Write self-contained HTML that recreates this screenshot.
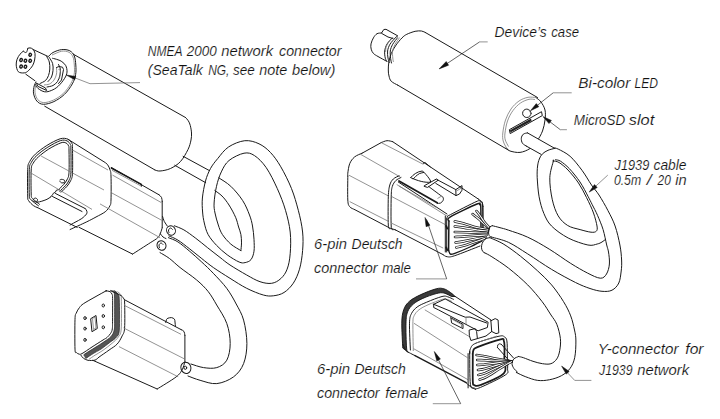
<!DOCTYPE html>
<html><head><meta charset="utf-8">
<style>
html,body{margin:0;padding:0;background:#fff;}
body{width:720px;height:419px;overflow:hidden;}
svg{display:block;}
.t{font-family:"Liberation Sans",sans-serif;font-style:italic;font-size:14px;fill:#111;stroke:#fff;stroke-width:0.15px;}
.l{fill:none;stroke:#1a1a1a;stroke-width:1;stroke-linejoin:round;stroke-linecap:round;}
.w{fill:none;stroke:#222;stroke-width:0.7;}
.g{fill:none;stroke:#777;stroke-width:0.8;}
</style></head><body>
<svg width="720" height="419" viewBox="0 0 720 419">
<g id="text">
<text class="t" x="147.80" y="55.8" textLength="34.79" lengthAdjust="spacingAndGlyphs">NMEA</text>
<text class="t" x="186.70" y="55.8" textLength="29.99" lengthAdjust="spacingAndGlyphs">2000</text>
<text class="t" x="221.30" y="55.8" textLength="51.77" lengthAdjust="spacingAndGlyphs">network</text>
<text class="t" x="279.10" y="55.8" textLength="62.42" lengthAdjust="spacingAndGlyphs">connector</text>
<text class="t" x="147.80" y="74.7" textLength="55.00" lengthAdjust="spacingAndGlyphs">(SeaTalk</text>
<text class="t" x="208.20" y="74.7" textLength="21.21" lengthAdjust="spacingAndGlyphs">NG,</text>
<text class="t" x="233.00" y="74.7" textLength="21.73" lengthAdjust="spacingAndGlyphs">see</text>
<text class="t" x="259.30" y="74.7" textLength="28.00" lengthAdjust="spacingAndGlyphs">note</text>
<text class="t" x="292.10" y="74.7" textLength="43.21" lengthAdjust="spacingAndGlyphs">below)</text>
<text class="t" x="494.60" y="37.3" textLength="52.20" lengthAdjust="spacingAndGlyphs">Device’s</text>
<text class="t" x="551.30" y="37.3" textLength="27.72" lengthAdjust="spacingAndGlyphs">case</text>
<text class="t" x="578.25" y="87.7" textLength="52.02" lengthAdjust="spacingAndGlyphs">Bi-color</text>
<text class="t" x="634.50" y="87.7" textLength="23.51" lengthAdjust="spacingAndGlyphs">LED</text>
<text class="t" x="573.75" y="125.0" textLength="51.48" lengthAdjust="spacingAndGlyphs">MicroSD</text>
<text class="t" x="628.75" y="125.0" textLength="25.46" lengthAdjust="spacingAndGlyphs">slot</text>
<text class="t" x="614.50" y="169.6" textLength="34.79" lengthAdjust="spacingAndGlyphs">J1939</text>
<text class="t" x="653.50" y="169.6" textLength="33.00" lengthAdjust="spacingAndGlyphs">cable</text>
<text class="t" x="613.90" y="185.4" textLength="27.21" lengthAdjust="spacingAndGlyphs">0.5m</text>
<text class="t" x="646.80" y="185.4" textLength="4.88" lengthAdjust="spacingAndGlyphs">/</text>
<text class="t" x="657.60" y="185.4" textLength="13.24" lengthAdjust="spacingAndGlyphs">20</text>
<text class="t" x="675.30" y="185.4" textLength="11.42" lengthAdjust="spacingAndGlyphs">in</text>
<text class="t" x="314.10" y="248.9" textLength="32.83" lengthAdjust="spacingAndGlyphs">6-pin</text>
<text class="t" x="351.60" y="248.9" textLength="51.00" lengthAdjust="spacingAndGlyphs">Deutsch</text>
<text class="t" x="314.10" y="273.2" textLength="63.41" lengthAdjust="spacingAndGlyphs">connector</text>
<text class="t" x="382.20" y="273.2" textLength="28.78" lengthAdjust="spacingAndGlyphs">male</text>
<text class="t" x="317.00" y="373.8" textLength="33.04" lengthAdjust="spacingAndGlyphs">6-pin</text>
<text class="t" x="354.50" y="373.8" textLength="51.39" lengthAdjust="spacingAndGlyphs">Deutsch</text>
<text class="t" x="317.00" y="398.1" textLength="62.62" lengthAdjust="spacingAndGlyphs">connector</text>
<text class="t" x="385.30" y="398.1" textLength="42.97" lengthAdjust="spacingAndGlyphs">female</text>
<text class="t" x="597.80" y="354.2" textLength="80.80" lengthAdjust="spacingAndGlyphs">Y-connector</text>
<text class="t" x="685.30" y="354.2" textLength="18.24" lengthAdjust="spacingAndGlyphs">for</text>
<text class="t" x="599.00" y="375.2" textLength="33.50" lengthAdjust="spacingAndGlyphs">J1939</text>
<text class="t" x="637.30" y="375.2" textLength="51.81" lengthAdjust="spacingAndGlyphs">network</text>
</g>
<g id="draw">
<path class="l" d="M73.3 54.2 L185.5 117.5"/>
<path class="l" d="M185.5 117.5 C186.0 118.0 187.5 119.5 188.3 120.8 C189.1 122.1 189.8 123.5 190.3 125.5 C190.8 127.5 191.4 130.6 191.5 133.0 C191.6 135.4 191.6 137.2 191.0 140.0 C190.4 142.8 189.8 145.9 188.0 149.5 C186.2 153.1 183.4 158.3 180.5 161.5 C177.6 164.7 173.9 166.9 170.5 168.5 C167.1 170.1 162.6 170.8 160.0 171.0 C157.4 171.2 155.8 170.2 155.0 170.0"/>
<path class="l" d="M155.0 170.0 L44.7 106.2"/>
<path class="l" d="M48.0 57.0 C48.8 56.2 50.7 53.7 53.0 52.5 C55.3 51.3 58.9 49.9 61.7 49.6 C64.5 49.3 67.7 49.7 69.8 50.8 C71.9 51.9 73.3 53.6 74.3 56.0 C75.3 58.4 75.6 61.9 75.8 65.0 C76.0 68.1 76.2 71.5 75.6 74.7 C75.0 77.9 74.2 80.6 72.3 83.9 C70.4 87.2 67.5 91.5 64.4 94.4 C61.3 97.4 57.4 99.9 53.9 101.6 C50.4 103.2 46.2 104.4 43.4 104.3 C40.5 104.2 38.4 102.9 36.8 101.0 C35.1 99.1 33.9 95.6 33.5 93.1 C33.1 90.6 33.8 87.8 34.2 85.9 C34.6 84.1 35.7 82.7 36.0 82.0"/>
<path class="g" d="M52.0 55.0 C53.6 54.4 58.9 51.7 61.7 51.2 C64.5 50.8 67.1 51.3 69.0 52.3 C70.9 53.3 72.1 54.9 73.0 57.0 C73.9 59.1 74.1 62.0 74.3 65.0 C74.5 68.0 74.7 71.6 74.1 74.7 C73.5 77.8 72.6 80.5 70.8 83.6 C69.0 86.7 66.3 90.7 63.4 93.4 C60.5 96.2 56.7 98.6 53.4 100.1 C50.1 101.6 46.4 102.7 43.8 102.6 C41.2 102.5 39.3 101.3 37.8 99.6 C36.3 97.9 35.4 94.9 35.0 92.6 C34.6 90.3 35.5 87.1 35.6 86.0"/>
<path class="l" d="M23.3 51.2 C23.8 51.5 25.5 53.0 26.2 52.5 C27.0 52.0 27.6 49.0 27.9 48.3"/>
<path class="l" d="M27.9 48.3 C28.2 48.2 29.2 47.8 30.0 47.9 C30.8 48.0 32.1 48.3 32.9 49.2 C33.7 50.1 34.7 51.5 35.0 53.3 C35.3 55.1 35.0 57.9 34.6 60.0 C34.2 62.1 33.5 64.0 32.5 65.8 C31.4 67.6 29.7 69.6 28.3 70.8 C26.9 72.0 25.9 72.8 24.2 72.9 C22.5 73.1 19.6 73.0 18.3 71.7 C17.0 70.4 16.4 67.1 16.2 65.0 C16.1 62.9 16.5 61.0 17.1 59.2 C17.7 57.4 19.0 55.5 20.0 54.2 C21.0 52.9 22.8 51.7 23.3 51.2"/>
<path class="l" d="M33.3 49.6 L47.5 56.2"/>
<path class="l" d="M25.8 74.2 L35.0 80.8"/>
<ellipse class="l" style="stroke-width:1.4" cx="30.2" cy="54.8" rx="1.5" ry="1.2" transform="rotate(-60 30.2 54.8)"/>
<ellipse class="l" style="stroke-width:1.4" cx="21.1" cy="60.0" rx="1.5" ry="1.2" transform="rotate(-60 21.1 60.0)"/>
<ellipse class="l" style="stroke-width:1.4" cx="25.4" cy="60.7" rx="1.5" ry="1.2" transform="rotate(-60 25.4 60.7)"/>
<ellipse class="l" style="stroke-width:1.4" cx="30.2" cy="60.8" rx="1.5" ry="1.2" transform="rotate(-60 30.2 60.8)"/>
<ellipse class="l" style="stroke-width:1.4" cx="21.1" cy="66.5" rx="1.5" ry="1.2" transform="rotate(-60 21.1 66.5)"/>
<ellipse class="l" style="stroke-width:1.4" cx="25.4" cy="66.7" rx="1.5" ry="1.2" transform="rotate(-60 25.4 66.7)"/>
<path class="l" d="M46.7 56.5 C47.1 57.4 48.8 59.9 49.3 62.0 C49.8 64.1 49.9 66.8 49.8 69.0 C49.7 71.2 49.2 73.6 48.5 75.5 C47.8 77.4 46.9 79.2 45.5 80.5 C44.1 81.8 40.9 83.0 40.0 83.5"/>
<path class="l" d="M49.3 57.5 C49.8 58.5 52.0 61.3 52.6 63.5 C53.2 65.7 53.2 68.2 53.0 70.5 C52.8 72.8 52.3 75.2 51.5 77.0 C50.7 78.8 48.6 80.8 48.0 81.5"/>
<path class="l" d="M52.6 58.3 C53.5 58.5 56.5 59.2 58.0 59.8 C59.5 60.3 60.5 60.6 61.8 61.6 C63.1 62.6 64.8 63.8 65.7 65.5 C66.6 67.2 67.2 69.9 67.0 72.1 C66.8 74.3 65.9 76.3 64.4 78.7 C62.9 81.1 60.1 84.5 57.9 86.5 C55.7 88.5 53.5 89.6 51.3 90.5 C49.1 91.4 46.9 92.1 44.7 91.8 C42.5 91.5 39.6 89.7 38.1 88.5 C36.6 87.3 35.9 85.2 35.5 84.6"/>
<path class="l" d="M47.0 87.0 C48.0 86.8 51.2 86.4 53.0 85.5 C54.8 84.6 56.3 83.2 57.5 81.5 C58.7 79.8 59.5 77.1 60.0 75.0 C60.5 72.9 60.5 70.8 60.3 69.0 C60.0 67.2 58.8 65.2 58.5 64.5"/>
<path class="g" d="M44.0 85.0 C44.9 84.8 47.8 84.8 49.5 84.0 C51.2 83.2 52.8 81.7 54.0 80.0 C55.2 78.3 56.1 76.0 56.5 74.0 C56.9 72.0 56.5 69.0 56.5 68.0"/>
<path class="l" d="M56.5 67.5 L59.0 66.5 L62.5 67.2 L63.5 69.5 L61.5 80.0 L58.5 83.5"/>
<path class="g" d="M58.5 69.5 L60.5 70.0 L59.5 79.0"/>
<path class="l" d="M36.8 83.3 L45.4 87.9 L46.7 90.5 L38.1 86.5Z"/>
<path class="g" d="M74.0 77.5 L90.0 83.7 L140.0 82.6"/>
<path d="M66.3 75.0 L74.7 79.7 L75.8 76.5 Z" fill="#111" stroke="#111" stroke-width="0.5"/>
<path class="l" d="M183.1 156.3 L209.4 170.6"/>
<path class="l" d="M174.8 165.3 L205.7 182.7"/>
<path class="l" d="M218.9 177.9 C220.9 179.3 226.8 182.5 230.8 186.3 C234.8 190.1 239.6 195.8 242.7 200.6 C245.8 205.4 247.9 210.8 249.5 215.0 C251.1 219.2 251.8 221.9 252.5 226.0 C253.2 230.1 253.8 235.1 254.0 239.3 C254.2 243.5 254.5 247.8 254.0 251.2 C253.5 254.6 252.5 257.7 251.0 259.6 C249.5 261.5 247.1 262.2 245.1 262.6 C243.1 263.0 242.1 263.3 239.1 262.0 C236.1 260.7 231.0 257.6 227.2 254.8 C223.4 252.0 219.7 248.7 216.5 245.3 C213.3 241.9 210.1 238.2 208.1 234.5 C206.1 230.8 205.2 226.8 204.3 223.0 C203.4 219.2 202.9 216.2 202.6 212.0 C202.3 207.8 201.9 203.2 202.4 198.0 C202.9 192.8 204.2 185.9 205.5 181.0 C206.8 176.1 208.5 172.2 210.5 168.5 C212.5 164.8 214.7 162.2 217.7 158.6 C220.7 155.0 224.0 150.0 228.5 147.0 C233.0 144.0 239.7 141.2 244.8 140.7 C249.9 140.2 254.7 141.8 259.0 143.8 C263.3 145.8 266.9 148.7 270.5 152.5 C274.1 156.3 277.3 160.8 280.8 166.8 C284.3 172.8 288.6 181.3 291.5 188.6 C294.4 195.8 296.4 203.1 298.3 210.3 C300.2 217.5 301.9 225.3 302.6 232.0 C303.3 238.7 303.1 244.4 302.6 250.6 C302.1 256.8 301.1 263.8 299.5 269.2 C297.9 274.6 295.9 279.3 293.3 283.2 C290.7 287.1 287.3 290.4 284.0 292.5 C280.7 294.6 276.8 295.4 273.3 295.8 C269.9 296.2 267.7 296.2 263.3 295.0 C258.9 293.8 252.2 291.1 246.7 288.3 C241.1 285.5 235.6 281.8 230.0 278.3 C224.4 274.8 218.0 270.8 213.3 267.5 C208.6 264.2 205.7 261.7 201.8 258.6 C197.9 255.5 193.8 252.1 189.8 249.0 C185.8 245.9 181.4 242.3 177.9 240.1 C174.4 237.9 170.4 236.6 168.9 235.9"/>
<path class="l" d="M214.8 190.5 C216.0 191.4 219.6 193.6 222.0 196.0 C224.4 198.4 226.7 201.4 229.0 205.0 C231.3 208.6 234.0 213.6 235.6 217.3 C237.2 221.0 237.7 224.1 238.6 227.0 C239.5 229.9 240.4 231.8 240.9 234.5 C241.4 237.2 241.5 240.2 241.5 242.9 C241.5 245.6 241.0 249.3 240.9 250.6"/>
<path class="l" d="M240.9 250.6 C239.2 249.5 233.9 246.8 230.8 244.1 C227.7 241.4 224.5 237.7 222.4 234.5 C220.3 231.3 219.5 228.6 218.3 225.0 C217.1 221.4 215.7 216.7 215.0 213.0 C214.3 209.3 213.8 207.4 214.1 203.0 C214.3 198.6 215.3 191.5 216.5 186.3 C217.7 181.1 219.2 176.2 221.3 171.9 C223.4 167.6 225.2 163.6 229.0 160.5 C232.8 157.4 239.8 154.0 244.0 153.2 C248.2 152.4 250.8 153.2 254.5 155.6 C258.2 158.0 262.4 162.1 266.2 167.6 C270.0 173.1 274.1 181.5 277.3 188.6 C280.5 195.7 283.4 203.1 285.5 210.3 C287.6 217.5 289.4 224.8 290.2 232.0 C291.0 239.2 290.7 247.5 290.2 253.7 C289.7 259.9 288.7 265.1 287.1 269.2 C285.6 273.3 283.5 276.1 280.9 278.5 C278.3 280.9 275.2 282.8 271.7 283.3 C268.2 283.8 264.2 283.1 260.0 281.7 C255.8 280.3 251.7 277.8 246.7 275.0 C241.7 272.2 234.4 267.9 230.0 265.0 C225.6 262.1 223.7 260.3 220.0 257.4 C216.3 254.5 211.7 251.0 207.7 247.8 C203.7 244.6 199.8 241.3 195.8 238.3 C191.8 235.3 187.5 232.0 183.9 229.9 C180.3 227.8 175.9 226.5 174.3 225.8"/>
<path class="l" d="M168.4 237.7 C170.0 238.4 174.3 239.6 177.9 241.9 C181.5 244.2 185.8 248.0 189.8 251.4 C193.8 254.8 197.9 258.5 201.8 262.1 C205.7 265.8 209.2 268.9 213.3 273.3 C217.5 277.7 222.9 283.2 226.7 288.3 C230.5 293.4 233.4 298.7 236.2 304.0 C239.0 309.3 241.8 313.5 243.6 320.1 C245.4 326.7 246.9 336.2 246.9 343.5 C246.9 350.8 245.8 358.0 243.6 363.6 C241.4 369.2 238.0 373.6 233.5 376.9 C229.0 380.2 222.4 383.0 216.8 383.6 C211.2 384.2 204.9 381.6 200.1 380.3 C195.3 379.0 190.0 376.7 188.0 376.0"/>
<path class="l" d="M160.0 252.6 C161.6 253.6 166.2 256.0 169.5 258.5 C172.8 261.0 175.5 263.9 180.0 267.5 C184.5 271.1 192.0 276.0 196.7 280.0 C201.4 284.0 205.0 287.5 208.3 291.7 C211.6 295.9 213.6 299.7 216.7 305.0 C219.8 310.3 224.6 317.1 226.8 323.5 C229.1 329.9 230.2 337.4 230.2 343.5 C230.2 349.6 229.0 356.2 226.8 360.2 C224.6 364.2 220.7 366.4 216.8 367.6 C212.9 368.8 207.8 368.2 203.5 367.6 C199.2 367.0 193.1 364.6 191.0 364.0"/>
<path class="l" d="M425.5 32.6 L537.5 97.5"/>
<path class="l" d="M425.5 32.6 C424.8 32.3 423.2 31.2 421.5 31.0 C419.8 30.8 417.6 30.8 415.1 31.3 C412.7 31.9 409.0 33.2 406.8 34.3 C404.6 35.4 403.8 36.1 402.0 37.9 C400.2 39.7 397.8 42.5 396.0 45.1 C394.2 47.7 392.5 50.6 391.3 53.4 C390.1 56.2 389.4 59.0 388.9 61.8 C388.4 64.6 388.3 67.6 388.3 70.0 C388.3 72.4 388.5 74.1 389.0 76.0 C389.5 77.9 389.8 79.8 391.2 81.2 C392.7 82.8 396.5 84.4 397.5 85.0"/>
<path class="l" d="M397.5 85.0 L508.2 150.0"/>
<path class="l" d="M536.0 97.6 C536.8 98.3 539.5 99.9 541.0 102.0 C542.5 104.1 544.3 107.0 545.0 110.0 C545.7 113.0 545.4 116.5 545.0 120.0 C544.6 123.5 543.8 127.5 542.5 131.0 C541.2 134.5 539.1 138.1 537.0 141.0 C534.9 143.9 532.8 146.6 530.0 148.5 C527.2 150.4 523.3 152.0 520.0 152.4 C516.7 152.8 512.2 151.7 510.0 151.0 C507.8 150.3 507.1 148.5 506.5 148.0"/>
<path class="g" d="M506.5 148.0 C505.9 146.8 503.8 143.5 503.2 141.0 C502.6 138.5 502.4 136.5 502.8 133.0 C503.2 129.5 504.1 124.0 505.5 120.0 C506.9 116.0 508.8 112.2 511.0 109.0 C513.2 105.8 516.2 103.0 519.0 101.0 C521.8 99.0 525.2 97.9 528.0 97.3 C530.8 96.7 534.7 97.5 536.0 97.6"/>
<path class="g" d="M508.5 146.5 C508.0 145.4 505.9 142.2 505.3 140.0 C504.7 137.8 504.6 136.2 505.0 133.0 C505.4 129.8 506.2 124.8 507.5 121.0 C508.8 117.2 510.8 113.5 513.0 110.5 C515.2 107.5 517.8 104.9 520.5 103.0 C523.2 101.1 526.6 99.9 529.0 99.3 C531.4 98.7 534.0 99.5 535.0 99.5"/>
<ellipse class="l" cx="526.8" cy="113.3" rx="4.2" ry="4.2" transform="rotate(0 526.8 113.3)"/>
<path class="l" d="M509.7 129.5 L541.5 111.7 L542.3 115.6 L510.5 133.4Z"/>
<path d="M510 130.2 L531 118.4 L531.6 121 L510.4 132.6Z" fill="#222"/>
<path class="g" d="M528.3 109.8 C528.6 110.2 529.9 111.3 530.3 112.3 C530.6 113.3 530.7 114.7 530.4 115.6 C530.1 116.5 528.9 117.3 528.6 117.6"/>
<path class="l" d="M381.5 33.0 C380.8 33.1 378.4 32.9 377.0 33.7 C375.6 34.5 374.4 36.2 373.4 37.9 C372.4 39.6 371.4 42.0 371.0 43.9 C370.6 45.8 370.8 47.6 371.2 49.2 C371.6 50.8 372.3 52.2 373.4 53.4 C374.5 54.6 375.8 55.2 378.0 56.5 C380.2 57.8 385.1 60.4 386.5 61.2"/>
<path class="l" d="M381.5 33.0 L383.8 29.5 L386.0 29.3 L397.8 35.9 L395.5 37.5"/>
<path class="l" d="M382.0 33.6 L388.0 37.0 L393.0 38.5"/>
<path class="l" d="M392.4 37.9 C391.5 38.9 388.4 41.7 387.1 43.9 C385.8 46.1 385.0 48.6 384.7 51.0 C384.4 53.4 384.9 56.5 385.3 58.2 C385.7 60.0 386.8 61.0 387.1 61.5"/>
<path class="l" d="M395.0 38.2 C394.2 39.2 391.2 42.1 390.0 44.2 C388.8 46.3 387.9 48.7 387.6 51.0 C387.3 53.3 387.7 56.1 388.0 58.0 C388.3 59.9 389.1 61.8 389.3 62.5"/>
<path class="l" d="M397.5 37.8 C396.7 38.9 393.9 42.1 392.7 44.3 C391.5 46.5 390.6 48.6 390.3 51.0 C390.0 53.4 390.4 56.5 390.6 58.5 C390.8 60.5 391.4 62.2 391.5 63.0"/>
<path class="g" d="M399.5 37.6 C398.8 38.8 396.1 42.3 395.0 44.5 C393.9 46.7 393.0 48.8 392.6 51.0 C392.2 53.2 392.7 56.2 392.8 58.0 C392.9 59.8 393.4 61.3 393.5 62.0"/>
<path class="g" d="M389.6 40.5 C389.1 41.5 387.0 44.6 386.3 46.5 C385.6 48.4 385.7 51.1 385.6 52.0"/>
<path class="g" d="M487.7 41.9 L479.6 41.9"/>
<path class="w" d="M479.6 41.9 L441.0 67.6"/>
<path d="M439.1 68.9 L448.6 65.2 L446.2 61.5 Z" fill="#111" stroke="#111" stroke-width="0.5"/>
<path class="g" d="M571.7 92.8 L553.2 92.8"/>
<path class="w" d="M553.2 92.8 L533.0 108.8"/>
<path d="M530.5 110.7 L538.8 106.7 L536.3 103.6 Z" fill="#111" stroke="#111" stroke-width="0.5"/>
<path class="g" d="M566.9 129.7 L560.3 129.7"/>
<path class="w" d="M560.3 129.7 L545.0 118.0"/>
<path d="M543.0 116.6 L549.0 123.6 L551.4 120.4 Z" fill="#111" stroke="#111" stroke-width="0.5"/>
<path d="M527.5 132.9 L553.3 147.5 L541.7 154.6 L526.7 146.3 C523.5 144.5 521.3 141.5 521.3 138.3 C521.5 135.5 524 133 527.5 132.9 Z" fill="#fff" stroke="none"/>
<path class="l" d="M527.5 132.9 L553.4 147.6"/>
<path class="l" d="M527.5 132.9 C526.8 133.1 524.3 133.3 523.3 134.2 C522.3 135.1 521.4 136.8 521.3 138.3 C521.2 139.8 521.6 142.0 522.5 143.3 C523.4 144.6 526.0 145.8 526.7 146.3"/>
<path class="l" d="M553.4 147.9 C554.2 148.1 555.4 147.7 558.2 149.1 C561.0 150.5 566.1 152.8 570.1 156.3 C574.1 159.8 578.4 165.5 582.0 170.3 C585.6 175.1 588.7 180.9 591.5 185.0 C594.3 189.1 596.3 190.8 599.0 195.0 C601.7 199.2 605.2 205.3 607.9 210.5 C610.6 215.7 613.1 220.2 615.1 226.0 C617.1 231.8 618.8 239.3 619.9 245.0 C621.0 250.7 621.4 255.7 621.6 260.0 C621.8 264.3 621.7 267.2 621.2 271.0 C620.7 274.8 620.3 279.8 618.8 283.0 C617.3 286.2 614.8 288.8 612.0 290.2 C609.2 291.6 605.7 291.6 602.0 291.3 C598.3 291.0 594.4 290.0 590.0 288.5 C585.6 287.0 581.9 285.7 575.5 282.5 C569.1 279.3 559.6 274.2 551.6 269.4 C543.6 264.6 534.9 258.4 527.7 253.9 C520.5 249.4 514.6 245.2 508.6 242.4 C502.6 239.6 494.5 238.0 491.7 237.1"/>
<path class="l" d="M526.7 146.3 L541.0 154.3"/>
<path class="l" d="M555.0 148.3 C553.8 148.6 550.1 149.4 548.0 150.3 C545.9 151.2 544.0 152.4 542.5 153.8 C541.0 155.2 540.1 157.0 539.3 159.0 C538.5 161.0 538.0 162.9 537.6 166.0 C537.2 169.1 537.0 172.6 537.2 177.7 C537.5 182.8 538.0 190.8 539.1 196.8 C540.2 202.8 541.8 208.6 543.9 213.5 C546.0 218.4 547.5 221.9 551.5 226.0 C555.5 230.1 562.1 234.8 568.2 238.0 C574.3 241.2 583.1 244.0 587.9 245.0 C592.7 246.0 594.9 244.5 597.2 244.0 C599.6 243.5 600.6 242.8 602.0 242.0 C603.4 241.2 604.8 239.9 605.3 239.5"/>
<path class="l" d="M492.3 225.7 C493.6 226.0 497.3 226.9 500.0 227.7 C502.7 228.4 504.0 228.6 508.6 230.2 C513.2 231.8 520.9 234.0 527.7 237.2 C534.5 240.3 542.0 244.7 549.2 249.1 C556.4 253.5 564.3 259.4 570.7 263.4 C577.1 267.4 582.5 270.5 587.4 273.0 C592.3 275.5 597.1 278.0 600.3 278.2 C603.5 278.4 605.0 276.4 606.5 274.0 C608.0 271.6 609.1 267.7 609.4 264.0 C609.7 260.3 609.0 255.2 608.5 252.0 C608.0 248.8 607.6 248.7 606.7 245.0 C605.8 241.3 604.6 234.5 603.1 229.6 C601.6 224.7 599.3 219.5 597.5 215.3 C595.7 211.1 593.8 207.8 592.2 204.6 C590.6 201.4 590.0 200.1 588.0 196.3 C586.0 192.5 583.1 186.6 580.0 182.0 C576.9 177.4 572.8 172.3 569.5 168.8 C566.2 165.3 562.8 162.7 560.5 161.2 C558.2 159.7 556.3 160.0 555.5 159.8"/>
<path class="l" d="M553.4 161.0 C552.8 163.8 550.0 171.3 549.8 177.7 C549.6 184.1 550.8 192.8 552.2 199.2 C553.6 205.6 555.6 211.5 558.2 215.9 C560.8 220.3 564.1 223.2 567.7 225.5 C571.4 227.8 576.2 228.5 580.1 229.6 C584.0 230.7 588.3 231.9 591.0 232.2 C593.7 232.5 595.3 232.2 596.3 231.2 C597.3 230.2 597.5 229.0 597.0 226.0 C596.5 223.0 595.2 217.8 593.5 213.0 C591.8 208.2 589.0 202.5 586.5 197.5 C584.0 192.5 581.6 187.6 578.5 183.0 C575.4 178.4 571.2 173.4 568.0 170.0 C564.8 166.6 561.4 164.0 559.0 162.5 C556.6 161.0 554.3 161.2 553.4 161.0 C552.5 160.8 554.0 158.2 553.4 161.0Z"/>
<path class="g" d="M607.8 175.1 L591.0 190.5"/>
<path d="M589.2 192.1 L597.2 187.5 L594.5 184.6 Z" fill="#111" stroke="#111" stroke-width="0.5"/>
<path class="l" d="M37.3 207.5 C36.6 207.2 34.8 206.7 33.4 205.6 C32.0 204.5 29.6 202.4 28.7 200.8 C27.8 199.2 27.9 201.2 27.7 196.0 C27.5 190.8 27.4 175.0 27.7 169.3 C28.0 163.6 28.3 164.2 29.6 161.7 C30.9 159.2 32.5 156.8 35.4 154.1 C38.3 151.4 42.7 148.1 46.8 145.5 C50.9 142.9 56.6 139.9 60.1 138.8 C63.6 137.8 65.8 138.4 67.8 139.2 C69.8 140.0 71.2 142.1 72.0 143.6 C72.8 145.1 72.4 143.5 72.5 148.4 C72.6 153.3 72.8 167.7 72.5 173.1 C72.2 178.5 71.5 178.6 70.6 180.8 C69.6 183.0 68.4 184.6 66.8 186.5 C65.2 188.4 62.0 191.2 61.1 192.2"/>
<path class="l" d="M38.5 205.8 C37.2 204.8 32.3 201.3 30.8 199.5 C29.3 197.7 29.6 200.0 29.3 195.0 C29.1 190.0 29.0 174.9 29.3 169.5 C29.6 164.1 30.1 164.8 31.3 162.5 C32.5 160.2 34.0 158.1 36.8 155.5 C39.5 152.9 43.8 149.7 47.8 147.2 C51.8 144.7 57.3 141.6 60.5 140.6 C63.7 139.6 65.3 140.2 67.0 140.9 C68.7 141.6 69.8 143.2 70.4 144.5 C71.1 145.8 70.8 144.3 70.9 149.0 C71.0 153.7 71.2 167.5 70.9 172.7 C70.6 177.9 70.0 178.0 69.1 180.2 C68.2 182.4 67.0 183.9 65.4 185.7 C63.9 187.5 60.7 190.3 59.8 191.2"/>
<path class="l" d="M39.5 204.3 C38.4 203.3 34.0 200.2 32.6 198.5 C31.2 196.8 31.4 198.8 31.2 194.0 C31.0 189.2 30.9 175.1 31.2 170.0 C31.5 164.9 31.8 165.7 33.0 163.5 C34.2 161.3 35.7 159.4 38.3 157.0 C40.9 154.6 45.0 151.4 48.8 149.0 C52.6 146.6 58.1 143.8 61.0 142.8 C63.9 141.8 64.7 142.5 66.0 143.0 C67.3 143.5 68.1 144.8 68.6 146.0 C69.1 147.2 68.9 145.6 69.0 150.0 C69.1 154.4 69.3 167.5 69.0 172.3 C68.7 177.1 68.3 177.0 67.4 179.0 C66.5 181.0 65.2 182.8 63.7 184.5 C62.2 186.2 59.5 188.7 58.7 189.5"/>
<path class="l" d="M61.1 191.5 L59.2 189.4 L56.3 190.3 L55.4 192.2 L53.3 193.3 L52.5 194.8 L50.6 197.0"/>
<path class="l" d="M50.6 197.0 C50.0 197.4 48.3 198.7 47.0 199.3 C45.7 199.9 44.2 200.4 43.0 200.8 C41.8 201.2 40.6 201.6 39.5 201.8 C38.4 202.0 37.4 202.2 36.3 202.1 C35.2 202.0 33.5 201.2 33.0 201.0"/>
<path class="l" d="M60.0 180.0 C60.3 179.9 61.0 179.2 61.8 179.3 C62.5 179.4 64.1 179.8 64.5 180.3 C64.9 180.9 64.8 182.2 64.3 182.6 C63.8 183.0 62.2 183.0 61.5 182.8 C60.8 182.6 60.2 181.7 60.0 181.5"/>
<path class="l" d="M33.0 200.0 C33.3 199.7 34.2 198.1 35.0 198.0 C35.8 197.9 37.2 198.8 37.5 199.5 C37.8 200.2 36.7 201.6 36.5 202.0"/>
<path class="l" d="M68.0 139.3 L103.5 161.5"/>
<path class="l" d="M103.5 161.5 C104.2 162.0 106.4 163.1 107.5 164.5 C108.6 165.9 109.5 168.2 110.1 170.1 C110.7 172.0 110.8 171.0 111.0 176.0 C111.2 181.0 111.2 195.0 111.0 200.0 C110.8 205.0 110.8 204.0 109.8 206.0 C108.8 208.0 107.5 210.0 105.2 211.8 C102.9 213.6 99.1 215.3 96.0 217.0 C92.9 218.7 91.1 219.7 86.8 221.8 C82.5 223.9 72.9 228.2 70.1 229.5"/>
<path class="l" d="M37.3 207.5 L77.2 227.4"/>
<path class="g" d="M41.1 156.0 L104.0 190.0"/>
<path class="g" d="M29.6 172.2 L92.0 209.4"/>
<path class="g" d="M72.5 150.0 L108.0 170.0"/>
<path class="l" d="M55.5 193.5 L85.1 208.5"/>
<path class="l" d="M52.5 196.5 L82.0 211.5"/>
<path class="l" d="M85.1 208.5 C85.4 208.9 86.6 210.1 86.8 211.0 C87.0 211.9 87.3 212.8 86.5 214.0 C85.7 215.2 83.7 217.1 81.8 218.5 C79.9 219.9 77.0 221.2 75.0 222.3 C73.0 223.4 70.9 224.6 70.1 225.0"/>
<path class="l" d="M111.3 167.5 L159.0 194.8"/>
<path class="l" d="M159.0 194.8 C159.4 195.2 161.0 196.3 161.5 197.4 C162.0 198.5 162.1 200.7 162.2 201.4"/>
<path class="l" d="M162.2 201.4 L162.2 227.8"/>
<path class="l" d="M162.2 227.8 C161.9 228.7 161.2 231.3 160.5 233.0 C159.8 234.7 159.4 236.2 157.7 237.8 C156.0 239.4 154.4 240.1 150.2 242.8 C146.0 245.5 135.5 252.2 132.6 254.1"/>
<path class="l" d="M132.6 254.1 L79.0 227.3"/>
<path class="l" style="stroke-width:1.5" d="M111.3 168.0 L141.4 184.4"/>
<path class="g" d="M112.0 170.3 L141.4 186.2"/>
<path class="l" d="M141.4 184.4 L141.4 186.2"/>
<path class="g" d="M112.5 175.1 L161.5 202.7"/>
<path class="g" d="M111.0 192.5 L161.5 220.2"/>
<path class="g" d="M100.0 203.9 L160.2 237.8"/>
<ellipse class="l" cx="171.0" cy="230.5" rx="4.3" ry="4.8" transform="rotate(-30 171.0 230.5)"/>
<ellipse class="l" cx="161.5" cy="245.5" rx="4.4" ry="4.9" transform="rotate(-30 161.5 245.5)"/>
<path class="l" d="M169.0 232.5 C168.9 232.1 168.2 230.8 168.5 230.0 C168.8 229.2 169.8 228.1 170.5 228.0 C171.2 227.9 172.2 229.2 172.5 229.5"/>
<path class="l" d="M159.5 247.5 C159.4 247.1 158.8 245.8 159.0 245.0 C159.2 244.2 160.3 243.1 161.0 243.0 C161.7 242.9 162.7 244.2 163.0 244.5"/>
<path class="l" d="M162.6 216.5 C162.9 217.3 163.5 219.9 164.3 221.5 C165.1 223.1 166.8 225.2 167.3 226.0"/>
<path class="l" d="M160.5 234.0 C160.9 234.5 162.1 236.2 163.0 237.0 C163.9 237.8 165.5 238.2 166.0 238.5"/>
<path class="l" d="M106.0 290.9 C106.7 291.0 109.0 291.0 110.0 291.6 C111.0 292.2 111.8 293.4 112.2 294.5 C112.6 295.6 112.5 294.2 112.6 298.5 C112.7 302.8 112.6 314.9 112.6 320.0 C112.5 325.1 112.6 326.8 112.3 329.0 C112.0 331.2 111.4 332.1 110.5 333.5 C109.6 334.9 108.2 336.4 107.0 337.5 C105.8 338.6 105.5 338.4 103.0 340.0 C100.5 341.6 95.5 344.7 92.0 347.0 C88.5 349.3 84.2 352.4 82.0 353.6 C79.8 354.8 79.9 354.3 79.0 354.1 C78.1 353.9 77.2 353.4 76.5 352.6 C75.8 351.8 75.2 354.6 75.0 349.1 C74.8 343.6 74.8 325.4 75.0 319.4 C75.2 313.4 75.5 315.0 76.3 313.0 C77.0 311.0 78.3 309.1 79.5 307.5 C80.7 305.9 81.0 305.4 83.6 303.6 C86.2 301.9 91.3 299.1 95.0 297.0 C98.7 294.9 104.2 291.9 106.0 290.9 C107.8 289.9 105.3 290.8 106.0 290.9Z"/>
<path d="M110.5 290.4 C111.0 290.7 112.8 291.1 113.5 292.0 C114.2 292.9 114.3 291.3 114.5 296.0 C114.7 300.7 114.6 314.3 114.6 320.0 C114.5 325.7 114.8 327.2 114.2 330.0 C113.6 332.8 112.7 334.5 111.0 336.5 C109.3 338.5 106.7 339.9 104.0 341.8 C101.3 343.7 98.0 345.7 95.0 347.6 C92.0 349.5 87.9 352.0 86.0 353.2 C84.1 354.4 83.9 354.7 83.5 355.0 L85.5 358.8 C85.9 358.5 86.4 358.1 88.0 357.0 C89.6 355.9 92.8 353.8 95.0 352.5 C97.2 351.2 98.5 350.8 101.0 349.1 C103.5 347.4 107.4 344.3 110.0 342.3 C112.6 340.3 115.0 339.1 116.5 337.0 C118.0 334.9 118.8 336.2 119.3 330.0 C119.8 323.8 119.5 306.0 119.3 300.0 C119.1 294.0 118.8 295.6 118.0 294.0 C117.2 292.4 115.1 291.2 114.5 290.6 Z" fill="#555" stroke="none"/>
<path class="w" d="M110.5 290.4 C111.0 290.7 112.8 291.1 113.5 292.0 C114.2 292.9 114.3 291.3 114.5 296.0 C114.7 300.7 114.6 314.3 114.6 320.0 C114.5 325.7 114.8 327.2 114.2 330.0 C113.6 332.8 112.7 334.5 111.0 336.5 C109.3 338.5 106.7 339.9 104.0 341.8 C101.3 343.7 98.0 345.7 95.0 347.6 C92.0 349.5 87.9 352.0 86.0 353.2 C84.1 354.4 83.9 354.7 83.5 355.0"/>
<path class="w" d="M114.5 290.6 C115.1 291.2 117.2 292.4 118.0 294.0 C118.8 295.6 119.1 294.0 119.3 300.0 C119.5 306.0 119.8 323.8 119.3 330.0 C118.8 336.2 118.0 334.9 116.5 337.0 C115.0 339.1 112.6 340.3 110.0 342.3 C107.4 344.3 103.5 347.4 101.0 349.1 C98.5 350.8 97.2 351.2 95.0 352.5 C92.8 353.8 89.6 355.9 88.0 357.0 C86.4 358.1 85.9 358.5 85.5 358.8"/>
<path class="g" d="M117.5 291.6 C118.0 292.1 120.0 293.3 120.6 294.5 C121.2 295.7 121.2 293.2 121.3 299.0 C121.4 304.8 121.7 322.7 121.2 329.0 C120.7 335.3 119.8 334.6 118.3 337.0 C116.8 339.4 114.5 341.1 112.0 343.3 C109.5 345.5 105.8 348.3 103.0 350.3 C100.2 352.3 97.3 353.7 95.0 355.2 C92.7 356.7 90.0 358.6 89.0 359.3"/>
<path class="l" d="M110.7 290.9 C111.7 291.3 114.7 292.6 116.5 293.4 C118.3 294.2 120.3 295.0 121.5 295.9 C122.7 296.8 123.1 297.7 123.6 298.7 C124.1 299.7 124.4 297.1 124.6 302.0 C124.8 306.9 125.0 322.3 124.6 328.0 C124.2 333.7 123.3 333.3 122.1 336.0 C120.8 338.7 119.3 341.8 117.1 344.1 C114.9 346.5 112.0 347.9 109.0 350.1 C106.0 352.3 101.3 355.4 99.0 357.1 C96.7 358.8 96.8 359.6 95.0 360.1 C93.2 360.6 89.9 360.6 88.0 360.3 C86.1 360.0 84.7 359.1 83.5 358.3 C82.3 357.5 81.4 355.8 81.0 355.3"/>
<path class="l" d="M124.4 299.7 L181.1 329.6"/>
<path class="l" d="M181.1 329.6 C181.6 329.9 183.4 330.5 184.0 331.5 C184.6 332.5 184.8 334.8 184.9 335.4"/>
<path class="l" d="M184.9 335.4 L184.9 362.0"/>
<path class="l" d="M184.9 362.0 C184.4 363.3 183.5 367.5 182.0 370.0 C180.5 372.5 180.1 373.8 176.0 377.0 C171.9 380.2 160.3 387.0 157.2 389.0"/>
<path class="l" d="M157.2 389.0 L93.0 360.4"/>
<path class="g" d="M123.5 327.9 L184.0 358.7"/>
<path class="g" d="M119.0 346.6 L178.2 376.8"/>
<path class="g" d="M124.4 305.4 L181.0 334.3"/>
<ellipse class="l" cx="85.0" cy="318.1" rx="1.2" ry="1.5" transform="rotate(0 85.0 318.1)"/>
<ellipse class="l" cx="85.0" cy="328.6" rx="1.2" ry="1.5" transform="rotate(0 85.0 328.6)"/>
<ellipse class="l" cx="85.0" cy="339.9" rx="1.2" ry="1.5" transform="rotate(0 85.0 339.9)"/>
<ellipse class="l" cx="103.3" cy="305.5" rx="1.2" ry="1.5" transform="rotate(0 103.3 305.5)"/>
<ellipse class="l" cx="103.3" cy="316.0" rx="1.2" ry="1.5" transform="rotate(0 103.3 316.0)"/>
<ellipse class="l" cx="103.3" cy="327.3" rx="1.2" ry="1.5" transform="rotate(0 103.3 327.3)"/>
<path class="l" d="M91.0 318.5 L96.0 315.5 L97.3 328.5 L92.3 331.5Z"/>
<path class="g" d="M92.5 318.5 L95.0 317.0 L96.0 328.0 L93.5 329.5Z"/>
<path class="l" d="M165.8 322.5 C165.9 322.0 166.1 320.2 166.5 319.5 C166.9 318.8 167.2 318.5 168.0 318.2 C168.8 317.9 170.4 317.5 171.5 317.6 C172.6 317.8 173.8 318.4 174.4 319.1 C175.0 319.8 174.8 320.8 175.0 322.0 C175.2 323.2 175.3 325.6 175.4 326.3"/>
<ellipse class="l" cx="185.9" cy="367.8" rx="5.0" ry="5.7" transform="rotate(-20 185.9 367.8)"/>
<ellipse class="l" cx="185.3" cy="367.8" rx="1.4" ry="1.6" transform="rotate(0 185.3 367.8)"/>
<path class="l" d="M347.8 176.0 C347.8 175.5 347.5 175.2 347.8 173.2 C348.1 171.1 348.6 166.4 349.7 163.7 C350.8 161.0 352.4 158.8 354.5 157.0 C356.6 155.2 360.8 153.8 362.1 153.2"/>
<path class="l" d="M362.1 153.2 L381.2 142.6"/>
<path class="l" d="M381.2 142.6 C382.2 142.3 385.1 140.8 387.0 140.7 C388.9 140.5 391.8 141.5 392.7 141.7"/>
<path class="l" d="M392.7 141.7 L430.0 166.7"/>
<path class="g" d="M381.2 142.6 L423.3 164.3"/>
<path class="l" d="M423.3 163.3 L425.0 162.5 L430.0 166.7"/>
<path class="l" d="M347.8 176.0 C347.8 180.0 347.5 194.9 347.8 200.0 C348.1 205.1 348.6 205.1 349.7 206.7 C350.8 208.3 353.7 209.0 354.5 209.5"/>
<path class="l" d="M354.5 209.5 L389.7 228.0 L395.4 229.9"/>
<path class="g" d="M360.2 154.1 L400.3 177.0"/>
<path class="g" d="M348.7 175.1 L388.9 196.2"/>
<path class="g" d="M349.7 201.6 L387.8 221.0"/>
<path class="l" d="M399.1 175.8 C398.1 176.3 394.9 177.5 393.3 179.0 C391.8 180.5 390.6 182.1 389.8 185.0 C389.0 187.9 388.6 190.0 388.3 196.7 C388.1 203.4 388.0 219.7 388.3 225.0 C388.6 230.3 389.7 227.9 390.0 228.5"/>
<path class="l" d="M401.0 177.5 C400.1 178.0 397.2 179.1 395.8 180.6 C394.4 182.1 393.1 183.8 392.3 186.5 C391.5 189.2 391.4 190.4 391.2 197.0 C391.0 203.6 390.9 220.6 391.2 226.0 C391.5 231.4 392.7 228.9 393.0 229.5"/>
<path class="l" d="M430.0 166.7 L478.7 199.3"/>
<path class="l" d="M478.7 199.3 C479.3 199.9 481.6 201.7 482.3 202.9 C483.0 204.1 482.9 205.9 483.0 206.5"/>
<path class="l" d="M483.0 206.5 L483.0 238.0"/>
<path class="l" d="M395.4 229.9 L443.2 254.7"/>
<path class="l" d="M443.2 254.7 C443.8 255.0 445.1 256.5 447.0 256.7 C448.9 256.9 449.2 257.5 454.7 255.7 C460.2 253.9 475.8 247.6 480.0 246.0"/>
<path class="l" d="M398.3 182.0 L447.0 214.0"/>
<path class="g" d="M396.7 184.5 L447.7 216.5"/>
<path class="g" d="M391.6 196.5 L445.1 224.5"/>
<path class="g" d="M391.6 223.2 L443.2 248.1"/>
<path class="l" d="M445.3 216.0 L445.3 252.0"/>
<path class="l" d="M446.7 219.0 C446.8 218.6 446.9 217.2 447.5 216.5 C448.1 215.8 445.6 217.2 450.5 214.6 C455.4 212.0 472.2 203.3 477.2 201.2 C482.2 199.1 479.6 201.4 480.5 202.0 C481.4 202.6 482.1 199.0 482.5 205.0 C482.9 211.0 482.9 232.5 483.0 238.0"/>
<path class="l" style="stroke-width:1.5" d="M448.9 221.0 C449.1 220.3 445.7 219.6 450.4 216.8 C455.1 214.0 472.1 206.0 477.0 204.0 C481.9 202.0 479.2 204.0 479.8 204.6 C480.4 205.2 480.6 202.1 480.8 207.3 C481.0 212.5 481.0 231.2 481.0 236.0"/>
<path class="l" d="M446.7 219.0 L446.7 252.0"/>
<path class="l" style="stroke-width:1.5" d="M448.9 221.0 L448.6 250.4"/>
<path class="l" style="stroke-width:1.3" d="M448.6 250.4 C448.9 251.0 449.4 253.6 450.4 254.1 C451.4 254.6 451.5 254.5 454.8 253.3 C458.1 252.1 465.5 249.1 470.0 247.0 C474.5 244.9 480.0 242.0 482.0 241.0"/>
<path class="l" style="stroke-width:2" d="M446.2 226.0 L447.2 228.5"/>
<path class="l" style="stroke-width:2" d="M446.2 247.5 L447.2 250.0"/>
<path class="l" style="stroke-width:1.8" d="M399.0 181.0 L437.2 202.8"/>
<path class="g" d="M399.0 186.0 L437.2 208.0"/>
<path class="l" d="M428.6 186.5 C430.8 188.1 439.1 194.3 441.5 196.1 C443.9 197.9 442.8 196.8 443.1 197.5 C443.4 198.2 443.6 199.5 443.1 200.4 C442.7 201.3 441.4 202.6 440.4 203.1 C439.4 203.6 437.7 203.3 437.2 203.3"/>
<path class="g" d="M437.5 198.5 L441.5 196.1"/>
<path class="l" d="M410.8 177.5 C413 175 417 171.5 422.2 171 L423.9 172.2 C426.5 175 429.5 178.5 430.6 181 L430.4 182.2 C425 182.8 418 181 410.8 177.7 Z"/>
<path class="l" d="M413.2 178.9 C413.6 178.5 414.6 177.4 415.6 176.5 C416.6 175.6 418.0 174.3 419.4 173.6 C420.8 172.9 423.0 172.7 423.7 172.5"/>
<path class="l" d="M424.5 185.6 L436.4 179.0 L438.2 180.2 L427.6 187.4 L424.5 186.5Z"/>
<path class="l" d="M437.0 179.6 L455.8 189.6 L462.0 185.6 L462.0 190.2 L459.5 194.0 L456.0 195.6 L435.8 183.4"/>
<path class="l" d="M455.8 189.6 L456.0 195.6"/>
<path class="g" d="M456.5 191.0 L461.5 188.0"/>
<path d="M454.8 221.5 C456.3 221.8 460.1 222.5 463.8 223.5 C467.5 224.5 472.7 226.5 476.8 227.5 C480.9 228.5 486.6 229.2 488.5 229.5" fill="none" stroke="#1a1a1a" stroke-width="2.6" stroke-linecap="round"/>
<path d="M454.8 221.5 C456.3 221.8 460.1 222.5 463.8 223.5 C467.5 224.5 472.7 226.5 476.8 227.5 C480.9 228.5 486.6 229.2 488.5 229.5" fill="none" stroke="#fff" stroke-width="1.1" stroke-linecap="round"/>
<path d="M454.8 226.5 C456.3 226.7 460.1 227.1 463.8 227.6 C467.5 228.2 472.8 229.3 476.8 229.9 C480.8 230.4 486.1 230.8 488.0 231.0" fill="none" stroke="#1a1a1a" stroke-width="2.6" stroke-linecap="round"/>
<path d="M454.8 226.5 C456.3 226.7 460.1 227.1 463.8 227.6 C467.5 228.2 472.8 229.3 476.8 229.9 C480.8 230.4 486.1 230.8 488.0 231.0" fill="none" stroke="#fff" stroke-width="1.1" stroke-linecap="round"/>
<path d="M454.8 232.0 C456.3 232.0 460.1 232.1 463.8 232.2 C467.5 232.4 472.9 232.6 476.8 232.8 C480.7 232.9 485.3 233.0 487.0 233.0" fill="none" stroke="#1a1a1a" stroke-width="2.6" stroke-linecap="round"/>
<path d="M454.8 232.0 C456.3 232.0 460.1 232.1 463.8 232.2 C467.5 232.4 472.9 232.6 476.8 232.8 C480.7 232.9 485.3 233.0 487.0 233.0" fill="none" stroke="#fff" stroke-width="1.1" stroke-linecap="round"/>
<path d="M455.0 237.0 C456.5 236.9 460.3 236.8 464.0 236.5 C467.7 236.2 473.2 235.8 477.0 235.5 C480.8 235.2 484.9 235.1 486.5 235.0" fill="none" stroke="#1a1a1a" stroke-width="2.6" stroke-linecap="round"/>
<path d="M455.0 237.0 C456.5 236.9 460.3 236.8 464.0 236.5 C467.7 236.2 473.2 235.8 477.0 235.5 C480.8 235.2 484.9 235.1 486.5 235.0" fill="none" stroke="#fff" stroke-width="1.1" stroke-linecap="round"/>
<path d="M455.6 242.5 C457.1 242.3 460.9 241.8 464.6 241.1 C468.3 240.4 474.1 239.1 477.6 238.4 C481.1 237.7 484.2 237.2 485.5 237.0" fill="none" stroke="#1a1a1a" stroke-width="2.6" stroke-linecap="round"/>
<path d="M455.6 242.5 C457.1 242.3 460.9 241.8 464.6 241.1 C468.3 240.4 474.1 239.1 477.6 238.4 C481.1 237.7 484.2 237.2 485.5 237.0" fill="none" stroke="#fff" stroke-width="1.1" stroke-linecap="round"/>
<path d="M456.3 247.4 C457.8 247.0 461.6 246.3 465.3 245.2 C469.0 244.1 475.1 241.8 478.3 240.7 C481.5 239.6 483.5 238.9 484.5 238.5" fill="none" stroke="#1a1a1a" stroke-width="2.6" stroke-linecap="round"/>
<path d="M456.3 247.4 C457.8 247.0 461.6 246.3 465.3 245.2 C469.0 244.1 475.1 241.8 478.3 240.7 C481.5 239.6 483.5 238.9 484.5 238.5" fill="none" stroke="#fff" stroke-width="1.1" stroke-linecap="round"/>
<path d="M472.6 214.1 C473.3 214.7 475.4 216.2 477.0 217.5 C478.6 218.8 480.1 220.2 482.0 222.0 C483.9 223.8 487.4 227.0 488.5 228.0" fill="none" stroke="#1a1a1a" stroke-width="2.6" stroke-linecap="round"/>
<path d="M472.6 214.1 C473.3 214.7 475.4 216.2 477.0 217.5 C478.6 218.8 480.1 220.2 482.0 222.0 C483.9 223.8 487.4 227.0 488.5 228.0" fill="none" stroke="#fff" stroke-width="1.1" stroke-linecap="round"/>
<path d="M476.5 211.0 C477.1 211.8 478.8 213.8 480.0 215.5 C481.2 217.2 482.5 219.5 484.0 221.5 C485.5 223.5 488.2 226.5 489.0 227.5" fill="none" stroke="#1a1a1a" stroke-width="2.6" stroke-linecap="round"/>
<path d="M476.5 211.0 C477.1 211.8 478.8 213.8 480.0 215.5 C481.2 217.2 482.5 219.5 484.0 221.5 C485.5 223.5 488.2 226.5 489.0 227.5" fill="none" stroke="#fff" stroke-width="1.1" stroke-linecap="round"/>
<path class="l" d="M492.3 225.7 C491.9 225.9 490.5 226.3 489.9 226.9 C489.3 227.5 488.9 228.1 488.7 229.3 C488.5 230.5 488.5 232.9 488.7 234.1 C488.9 235.3 489.4 236.0 489.9 236.5 C490.4 237.0 491.4 237.0 491.7 237.1"/>
<path class="l" d="M489.9 237.7 C489.2 237.8 487.0 238.0 486.0 238.5 C485.0 239.0 484.5 239.8 483.9 240.6 C483.2 241.4 482.5 242.4 482.1 243.6 C481.7 244.8 481.4 246.5 481.5 247.8 C481.6 249.1 482.1 250.5 482.7 251.4 C483.3 252.3 484.6 252.7 485.0 253.0"/>
<path class="g" d="M416.0 278.9 L446.7 278.9"/>
<path class="w" d="M446.7 278.9 L426.5 219.5"/>
<path d="M425.0 217.5 L426.1 226.7 L429.9 225.3 Z" fill="#111" stroke="#111" stroke-width="0.5"/>
<path d="M402.8 348.1 C402.6 344.0 401.7 329.6 401.8 323.2 C401.9 316.8 402.4 313.5 403.7 309.8 C405.0 306.1 406.6 303.7 409.5 301.2 C412.4 298.7 416.4 296.7 420.9 294.6 C425.3 292.5 432.4 289.8 436.2 288.8 C440.0 287.8 441.5 288.2 443.9 288.8 C446.3 289.4 448.7 291.3 450.6 292.6 C452.5 293.9 454.5 295.9 455.3 296.5 L451.5 296.5 C450.2 295.9 446.4 293.5 443.9 293.0 C441.3 292.5 439.7 292.7 436.2 293.6 C432.7 294.5 426.6 296.6 422.8 298.4 C419.0 300.1 415.8 301.9 413.3 304.1 C410.8 306.3 408.8 308.6 407.6 311.8 C406.4 315.0 406.2 317.1 406.0 323.2 C405.8 329.2 406.2 343.2 406.6 348.1 C407.0 353.0 408.2 351.8 408.5 352.5 Z" fill="#3a3a3a" stroke="#111" stroke-width="0.9"/>
<path class="l" d="M402.7 344.0 C403.2 345.0 404.5 348.6 405.8 350.2 C407.1 351.8 408.9 352.4 410.4 353.3 C411.9 354.2 414.2 355.2 415.0 355.6"/>
<path class="l" d="M410.4 350.0 C410.2 345.5 409.3 329.2 409.5 323.2 C409.7 317.1 410.1 316.4 411.4 313.7 C412.7 311.0 414.6 308.9 417.1 307.0 C419.7 305.1 422.6 303.9 426.7 302.2 C430.8 300.4 438.5 297.4 442.0 296.5 C445.5 295.6 445.8 296.3 447.7 296.8 C449.6 297.3 452.4 298.9 453.4 299.3"/>
<path class="g" d="M413.3 351.0 C413.2 346.4 412.8 329.1 412.9 323.2 C413.0 317.3 413.2 317.8 414.2 315.6 C415.2 313.4 416.7 311.6 419.0 309.8 C421.3 308.0 424.1 306.6 428.0 304.8 C431.9 303.1 439.2 300.2 442.5 299.3 C445.8 298.4 445.9 299.1 447.5 299.5 C449.1 299.9 451.2 301.2 452.0 301.5"/>
<path class="l" style="stroke-width:1.4" d="M415.0 355.6 L466.2 382.7"/>
<path class="l" d="M466.2 382.7 C466.7 383.2 467.4 384.4 469.0 385.5 C470.6 386.6 474.4 388.8 475.5 389.5"/>
<path class="g" d="M413.5 348.6 L467.8 379.6"/>
<path class="l" d="M468.1 353.6 L468.1 387.9"/>
<path class="g" d="M414.0 323.3 L467.8 357.9"/>
<path class="g" d="M424.8 309.8 L470.0 337.0"/>
<path class="l" d="M455.3 296.5 L491.0 320.0"/>
<path class="l" d="M469.7 353.3 C469.8 352.5 469.5 350.2 470.5 348.5 C471.5 346.8 471.1 345.2 475.9 343.2 C480.7 341.1 494.3 337.2 499.1 336.2 C503.9 335.2 503.2 336.2 504.5 337.0 C505.8 337.8 506.4 337.9 506.9 340.9 C507.4 343.9 507.2 350.4 507.3 355.0 C507.4 359.6 507.9 365.5 507.6 368.8 C507.3 372.1 509.8 371.9 505.3 375.0 C500.8 378.1 485.7 385.2 480.5 387.4 C475.3 389.6 476.0 388.6 474.3 388.1 C472.6 387.6 471.2 390.1 470.4 384.3 C469.6 378.5 469.8 358.5 469.7 353.3 C469.6 348.1 469.6 354.1 469.7 353.3Z"/>
<path class="l" style="stroke-width:1.8" d="M472.8 354.8 C472.9 354.0 472.7 351.3 473.5 350.0 C474.3 348.7 472.9 348.9 477.4 347.1 C481.9 345.3 496.3 340.3 500.7 339.3 C505.1 338.3 503.2 339.9 503.8 340.9 C504.4 341.9 504.4 342.3 504.5 345.5 C504.6 348.7 504.4 355.4 504.3 360.0 C504.2 364.6 507.8 369.2 503.8 373.4 C499.8 377.6 485.4 383.1 480.5 385.0 C475.6 386.9 475.6 385.6 474.3 385.0 C473.0 384.4 473.1 386.2 472.8 381.2 C472.6 376.2 472.8 359.2 472.8 354.8 C472.8 350.4 472.7 355.6 472.8 354.8Z"/>
<path class="l" d="M433.7 304.3 L445.2 298.9 L488.1 322.2 L487.4 327.5 L478.1 330.8 L438.7 310.0 L433.7 307.5 L433.7 304.3Z"/>
<path class="l" d="M433.7 304.3 L465.2 317.2 L470.0 317.0 L486.7 323.0"/>
<path class="g" d="M466.0 317.5 L466.0 324.0"/>
<path class="l" d="M450.9 317.9 L463.0 324.3 L463.0 328.6 L451.6 322.9 L450.9 317.9Z"/>
<path class="g" d="M452.5 319.5 L461.5 324.5 L461.5 327.0"/>
<path class="l" d="M469.5 330.0 L475.2 328.6 L476.6 331.5 L477.4 338.6 L470.9 340.5 L469.5 336.0Z"/>
<path class="l" d="M490.9 320.8 L495.2 318.6 L498.1 320.0 L498.8 332.9 L496.0 333.6 L491.7 331.5 L490.9 320.8Z"/>
<path class="l" d="M477.4 338.6 L486.0 336.0 L491.7 331.5"/>
<path class="g" d="M476.0 343.0 L497.0 336.0"/>
<path d="M476.6 355.0 C477.8 355.2 480.3 355.3 483.6 356.0 C486.9 356.6 492.0 358.0 496.6 358.9 C501.2 359.8 509.0 361.1 511.5 361.5" fill="none" stroke="#1a1a1a" stroke-width="2.6" stroke-linecap="round"/>
<path d="M476.6 355.0 C477.8 355.2 480.3 355.3 483.6 356.0 C486.9 356.6 492.0 358.0 496.6 358.9 C501.2 359.8 509.0 361.1 511.5 361.5" fill="none" stroke="#fff" stroke-width="1.1" stroke-linecap="round"/>
<path d="M477.2 360.0 C478.4 360.0 480.9 360.1 484.2 360.2 C487.5 360.4 492.6 360.7 497.2 360.9 C501.8 361.1 509.1 361.4 511.5 361.5" fill="none" stroke="#1a1a1a" stroke-width="2.6" stroke-linecap="round"/>
<path d="M477.2 360.0 C478.4 360.0 480.9 360.1 484.2 360.2 C487.5 360.4 492.6 360.7 497.2 360.9 C501.8 361.1 509.1 361.4 511.5 361.5" fill="none" stroke="#fff" stroke-width="1.1" stroke-linecap="round"/>
<path d="M477.4 365.0 C478.6 364.9 481.1 364.8 484.4 364.5 C487.7 364.1 492.9 363.4 497.4 362.9 C501.9 362.4 509.1 361.7 511.5 361.5" fill="none" stroke="#1a1a1a" stroke-width="2.6" stroke-linecap="round"/>
<path d="M477.4 365.0 C478.6 364.9 481.1 364.8 484.4 364.5 C487.7 364.1 492.9 363.4 497.4 362.9 C501.9 362.4 509.1 361.7 511.5 361.5" fill="none" stroke="#fff" stroke-width="1.1" stroke-linecap="round"/>
<path d="M478.0 370.0 C479.2 369.8 481.7 369.6 485.0 368.7 C488.3 367.9 493.6 366.1 498.0 364.9 C502.4 363.7 509.2 362.1 511.5 361.5" fill="none" stroke="#1a1a1a" stroke-width="2.6" stroke-linecap="round"/>
<path d="M478.0 370.0 C479.2 369.8 481.7 369.6 485.0 368.7 C488.3 367.9 493.6 366.1 498.0 364.9 C502.4 363.7 509.2 362.1 511.5 361.5" fill="none" stroke="#fff" stroke-width="1.1" stroke-linecap="round"/>
<path d="M478.4 375.0 C479.6 374.7 482.1 374.3 485.4 373.0 C488.7 371.6 494.0 368.8 498.4 366.9 C502.8 365.0 509.3 362.4 511.5 361.5" fill="none" stroke="#1a1a1a" stroke-width="2.6" stroke-linecap="round"/>
<path d="M478.4 375.0 C479.6 374.7 482.1 374.3 485.4 373.0 C488.7 371.6 494.0 368.8 498.4 366.9 C502.8 365.0 509.3 362.4 511.5 361.5" fill="none" stroke="#fff" stroke-width="1.1" stroke-linecap="round"/>
<path d="M479.7 379.5 C480.9 379.1 483.4 378.6 486.7 376.8 C490.0 375.0 495.6 371.2 499.7 368.7 C503.8 366.1 509.5 362.7 511.5 361.5" fill="none" stroke="#1a1a1a" stroke-width="2.6" stroke-linecap="round"/>
<path d="M479.7 379.5 C480.9 379.1 483.4 378.6 486.7 376.8 C490.0 375.0 495.6 371.2 499.7 368.7 C503.8 366.1 509.5 362.7 511.5 361.5" fill="none" stroke="#fff" stroke-width="1.1" stroke-linecap="round"/>
<path class="l" d="M497.5 347.5 L509.5 361.0"/>
<path class="l" d="M501.5 344.5 L513.5 358.0"/>
<path class="l" d="M497.5 347.5 C497.6 347.1 497.5 345.6 497.8 345.0 C498.1 344.4 498.9 343.9 499.5 343.8 C500.1 343.7 501.2 344.4 501.5 344.5"/>
<path class="g" d="M432.8 403.7 L460.7 403.7"/>
<path class="w" d="M460.7 403.7 L435.5 354.0"/>
<path d="M434.3 351.5 L436.8 360.9 L440.4 359.1 Z" fill="#111" stroke="#111" stroke-width="0.5"/>
<path class="l" d="M489.9 237.7 C492.2 238.8 498.8 241.2 503.9 244.3 C509.0 247.4 515.0 251.9 520.6 256.3 C526.2 260.7 532.1 265.8 537.3 270.6 C542.5 275.4 547.2 279.7 551.6 284.9 C556.0 290.1 560.3 296.4 563.5 301.6 C566.7 306.8 568.9 311.2 570.7 315.9 C572.5 320.6 573.6 325.8 574.5 330.0 C575.4 334.2 575.9 336.4 575.9 341.0 C575.9 345.6 575.7 353.1 574.7 357.7 C573.7 362.3 572.2 365.5 570.0 368.5 C567.8 371.5 565.0 373.7 561.6 375.6 C558.2 377.5 553.7 378.9 549.7 379.7 C545.7 380.5 541.7 380.9 537.7 380.4 C533.7 379.9 529.4 378.1 525.8 376.8 C522.2 375.5 517.9 373.2 516.3 372.5"/>
<path class="l" d="M485.0 253.0 C486.1 253.6 488.0 254.3 491.9 256.8 C495.8 259.3 502.6 263.5 508.6 268.2 C514.6 272.9 522.1 279.3 527.7 284.9 C533.3 290.5 538.2 296.6 542.1 301.6 C546.0 306.6 548.5 311.2 551.0 315.0 C553.5 318.8 555.2 320.4 556.8 324.3 C558.4 328.2 559.9 334.2 560.4 338.6 C560.9 343.0 560.3 347.2 559.7 350.6 C559.1 354.0 558.3 356.7 556.8 358.9 C555.3 361.1 553.3 362.9 550.9 363.7 C548.5 364.5 545.5 364.1 542.5 363.7 C539.5 363.3 536.2 362.3 533.0 361.3 C529.8 360.3 525.8 358.5 523.4 357.7 C521.0 356.9 519.4 356.7 518.6 356.5"/>
<path class="l" d="M518.6 356.5 C517.8 356.9 515.0 357.7 513.9 358.9 C512.8 360.1 512.0 362.1 512.0 363.7 C512.0 365.3 513.0 367.1 513.9 368.5 C514.8 369.9 516.8 371.4 517.4 372.0"/>
<path class="g" d="M591.4 380.4 L574.7 380.4 L563.0 368.0"/>
<path d="M561.6 366.1 L566.2 374.1 L569.2 371.4 Z" fill="#111" stroke="#111" stroke-width="0.5"/>
</g>
</svg>
</body></html>
